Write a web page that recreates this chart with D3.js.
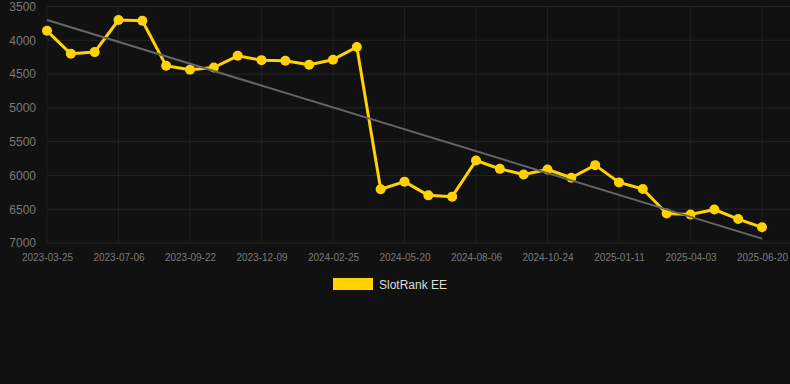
<!DOCTYPE html>
<html>
<head>
<meta charset="utf-8">
<script src="https://cdn.jsdelivr.net/npm/d3@7"></script>
<style>
  html, body { margin: 0; padding: 0; background: #111111; }
  svg { display: block; font-family: "Liberation Sans", Arial, sans-serif; }
</style>
</head>
<body>
<svg id="chart" width="790" height="384"></svg>
<script>
// categories (only every 3rd date is printed on the axis)
const dates = [
  "2023-03-25", "2023-05-09", "2023-06-08", "2023-07-06", "2023-08-01", "2023-08-27",
  "2023-09-22", "2023-10-18", "2023-11-13", "2023-12-09", "2024-01-04", "2024-01-30",
  "2024-02-25", "2024-03-24", "2024-04-22", "2024-05-20", "2024-06-15", "2024-07-11",
  "2024-08-06", "2024-09-01", "2024-09-28", "2024-10-24", "2024-11-19", "2024-12-16",
  "2025-01-11", "2025-02-07", "2025-03-07", "2025-04-03", "2025-04-29", "2025-05-25",
  "2025-06-20"
];

// SlotRank EE rank values
const ranks = [
  3860, 4200, 4175, 3700, 3710, 4378,
  4437, 4403, 4230, 4294, 4304, 4363,
  4287, 4100, 6205, 6092, 6295, 6314,
  5779, 5903, 5986, 5912, 6034, 5848,
  6103, 6200, 6563, 6578, 6504, 6646,
  6768
];

// trend line end values
const trendValues = [3700, 6935];

const yTicks = [3500, 4000, 4500, 5000, 5500, 6000, 6500, 7000];
const seriesName = "SlotRank EE";

const svg = d3.select("#chart");
const width = +svg.attr("width");

const x = d3.scalePoint()
  .domain(dates)
  .range([47, 762]);

const y = d3.scaleLinear()
  .domain([3500, 7000])
  .range([6.5, 243]);

// grid
const grid = svg.append("g");
grid.selectAll(".hgrid")
  .data(yTicks)
  .enter().append("line")
  .attr("x1", 47).attr("x2", width)
  .attr("y1", d => y(d)).attr("y2", d => y(d))
  .attr("stroke", "#262626")
  .attr("stroke-width", 1);

const labelDates = dates.filter((d, i) => i % 3 === 0);
grid.selectAll(".vgrid")
  .data(labelDates)
  .enter().append("line")
  .attr("x1", d => x(d)).attr("x2", d => x(d))
  .attr("y1", y(3500)).attr("y2", y(7000))
  .attr("stroke", "#1f1f1f")
  .attr("stroke-width", 1);

// axes
const yAxis = svg.append("g")
  .attr("transform", "translate(36,0)")
  .call(d3.axisLeft(y).tickValues(yTicks).tickFormat(d3.format("d")).tickSize(0).tickPadding(0));
yAxis.select(".domain").remove();
yAxis.selectAll("text")
  .attr("fill", "#7a7a7a")
  .style("font-size", "12px");

const xAxis = svg.append("g")
  .attr("transform", `translate(0,${y(7000)})`)
  .call(d3.axisBottom(x).tickValues(labelDates).tickSize(0).tickPadding(11));
xAxis.select(".domain").remove();
xAxis.selectAll("text")
  .attr("fill", "#7a7a7a")
  .style("font-size", "10px");

// series
const line = d3.line()
  .x((d, i) => x(dates[i]))
  .y(d => y(d));

svg.append("path")
  .datum(ranks)
  .attr("d", line)
  .attr("fill", "none")
  .attr("stroke", "#ffd200")
  .attr("stroke-width", 3)
  .attr("stroke-linejoin", "round");

svg.append("g")
  .selectAll("circle")
  .data(ranks)
  .enter().append("circle")
  .attr("cx", (d, i) => x(dates[i]))
  .attr("cy", d => y(d))
  .attr("r", 5)
  .attr("fill", "#ffd200");

// trend line (drawn over the series)
svg.append("line")
  .attr("x1", x(dates[0]))
  .attr("y1", y(trendValues[0]))
  .attr("x2", x(dates[dates.length - 1]))
  .attr("y2", y(trendValues[1]))
  .attr("stroke", "#666666")
  .attr("stroke-width", 2);

// legend
const legend = svg.append("g")
  .attr("transform", "translate(333,278)");

legend.append("rect")
  .attr("width", 40)
  .attr("height", 12)
  .attr("fill", "#ffd200");

legend.append("text")
  .attr("x", 46)
  .attr("y", 10.5)
  .attr("fill", "#dddddd")
  .style("font-size", "12px")
  .text(seriesName);
</script>
</body>
</html>
